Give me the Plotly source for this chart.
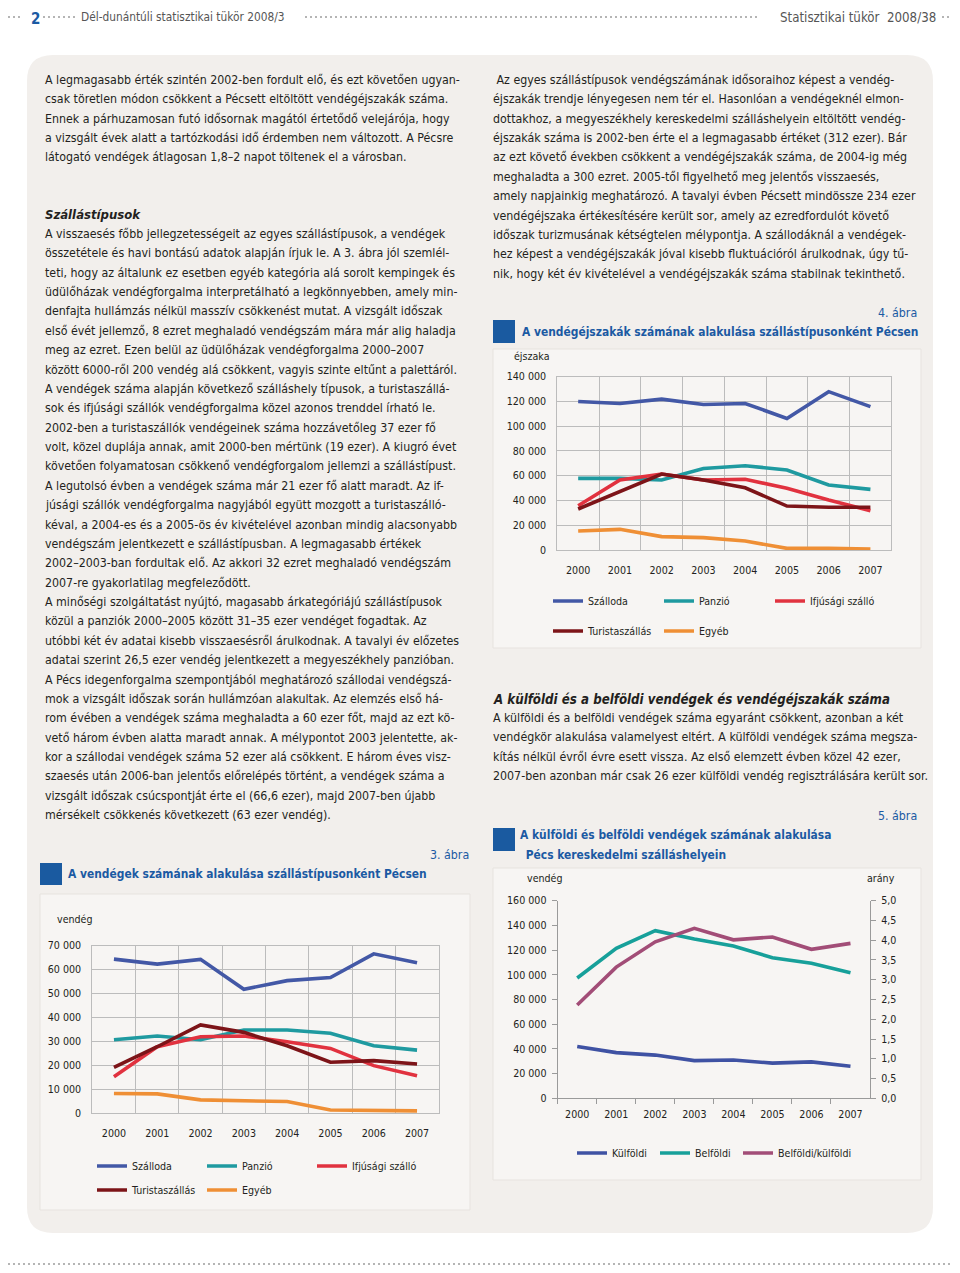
import plotly.graph_objects as go

# page pixels of the reference; the plotly div sits at (8, 8) inside the page
OFF = 8
W, H = 960 - 2 * OFF, 1273 - 2 * OFF
FONT = "DejaVu Sans Condensed, DejaVu Sans, sans-serif"
BLUE = "#1b5aa3"
TXT = "#231f20"
GRID = "#bcbcbc"
PANEL = "#f2efec"
BOX = "#f7f5f3"
BODY = 12.3

# ---------------- data ----------------
years = ["2000", "2001", "2002", "2003", "2004", "2005", "2006", "2007"]

# 3. ábra – vendégek (fő)
g_szalloda = [64400, 62300, 64300, 51800, 55400, 56700, 66600, 62900]
g_panzio = [30700, 32300, 30700, 34800, 34800, 33400, 28200, 26400]
g_ifjusagi = [15300, 27800, 32000, 32300, 29900, 27100, 19900, 15700]
g_turista = [19200, 27800, 36900, 33800, 28200, 21300, 22000, 20600]
g_egyeb = [8300, 8100, 5600, 5300, 4900, 1400, 1300, 1000]

# 4. ábra – vendégéjszakák
n_szalloda = [120000, 118400, 121900, 117600, 118400, 106300, 127900, 115800]
n_panzio = [57900, 57900, 56500, 65900, 68100, 64600, 52500, 49000]
n_ifjusagi = [35800, 56500, 61400, 56500, 57100, 49800, 40400, 31800]
n_turista = [33100, 47100, 61400, 56500, 50300, 35500, 34500, 34500]
n_egyeb = [15300, 16700, 10800, 10000, 7300, 1300, 1300, 800]

# 5. ábra – külföldi / belföldi vendégek
kulfoldi = [42000, 37000, 35000, 30500, 31000, 28500, 29500, 26000]
belfoldi = [97400, 121500, 135700, 129000, 123300, 113800, 109300, 101700]
arany = [2.36, 3.32, 3.96, 4.30, 4.01, 4.08, 3.77, 3.92]

types = ["Szálloda", "Panzió", "Ifjúsági szálló", "Turistaszállás", "Egyéb"]
type_colors = ["#4358a6", "#1f9aa0", "#e1323f", "#7d1418", "#ef8f35"]
kb_names = ["Külföldi", "Belföldi", "Belföldi/külföldi"]
kb_colors = ["#3f52a3", "#17a09a", "#a24d77"]

# ---------------- text ----------------
left_p1 = [
    "A legmagasabb érték szintén 2002-ben fordult elő, és ezt követően ugyan-",
    "csak töretlen módon csökkent a Pécsett eltöltött vendégéjszakák száma.",
    "Ennek a párhuzamosan futó idősornak magától értetődő velejárója, hogy",
    "a vizsgált évek alatt a tartózkodási idő érdemben nem változott. A Pécsre",
    "látogató vendégek átlagosan 1,8–2 napot töltenek el a városban.",
]
left_p2 = [
    "A visszaesés főbb jellegzetességeit az egyes szállástípusok, a vendégek",
    "összetétele és havi bontású adatok alapján írjuk le. A 3. ábra jól szemlél-",
    "teti, hogy az általunk ez esetben egyéb kategória alá sorolt kempingek és",
    "üdülőházak vendégforgalma interpretálható a legkönnyebben, amely min-",
    "denfajta hullámzás nélkül masszív csökkenést mutat. A vizsgált időszak",
    "első évét jellemző, 8 ezret meghaladó vendégszám mára már alig haladja",
    "meg az ezret. Ezen belül az üdülőházak vendégforgalma 2000–2007",
    "között 6000-ről 200 vendég alá csökkent, vagyis szinte eltűnt a palettáról.",
    "A vendégek száma alapján következő szálláshely típusok, a turistaszállá-",
    "sok és ifjúsági szállók vendégforgalma közel azonos trenddel írható le.",
    "2002-ben a turistaszállók vendégeinek száma hozzávetőleg 37 ezer fő",
    "volt, közel duplája annak, amit 2000-ben mértünk (19 ezer). A kiugró évet",
    "követően folyamatosan csökkenő vendégforgalom jellemzi a szállástípust.",
    "A legutolsó évben a vendégek száma már 21 ezer fő alatt maradt. Az if-",
    "júsági szállók vendégforgalma nagyjából együtt mozgott a turistaszálló-",
    "kéval, a 2004-es és a 2005-ös év kivételével azonban mindig alacsonyabb",
    "vendégszám jelentkezett e szállástípusban. A legmagasabb értékek",
    "2002–2003-ban fordultak elő. Az akkori 32 ezret meghaladó vendégszám",
    "2007-re gyakorlatilag megfeleződött.",
    "A minőségi szolgáltatást nyújtó, magasabb árkategóriájú szállástípusok",
    "közül a panziók 2000–2005 között 31–35 ezer vendéget fogadtak. Az",
    "utóbbi két év adatai kisebb visszaesésről árulkodnak. A tavalyi év előzetes",
    "adatai szerint 26,5 ezer vendég jelentkezett a megyeszékhely panzióban.",
    "A Pécs idegenforgalma szempontjából meghatározó szállodai vendégszá-",
    "mok a vizsgált időszak során hullámzóan alakultak. Az elemzés első há-",
    "rom évében a vendégek száma meghaladta a 60 ezer főt, majd az ezt kö-",
    "vető három évben alatta maradt annak. A mélypontot 2003 jelentette, ak-",
    "kor a szállodai vendégek száma 52 ezer alá csökkent. E három éves visz-",
    "szaesés után 2006-ban jelentős előrelépés történt, a vendégek száma a",
    "vizsgált időszak csúcspontját érte el (66,6 ezer), majd 2007-ben újabb",
    "mérsékelt csökkenés következett (63 ezer vendég).",
]
right_p1 = [
    " Az egyes szállástípusok vendégszámának idősoraihoz képest a vendég-",
    "éjszakák trendje lényegesen nem tér el. Hasonlóan a vendégeknél elmon-",
    "dottakhoz, a megyeszékhely kereskedelmi szálláshelyein eltöltött vendég-",
    "éjszakák száma is 2002-ben érte el a legmagasabb értéket (312 ezer). Bár",
    "az ezt követő években csökkent a vendégéjszakák száma, de 2004-ig még",
    "meghaladta a 300 ezret. 2005-től figyelhető meg jelentős visszaesés,",
    "amely napjainkig meghatározó. A tavalyi évben Pécsett mindössze 234 ezer",
    "vendégéjszaka értékesítésére került sor, amely az ezredfordulót követő",
    "időszak turizmusának kétségtelen mélypontja. A szállodáknál a vendégek-",
    "hez képest a vendégéjszakák jóval kisebb fluktuációról árulkodnak, úgy tű-",
    "nik, hogy két év kivételével a vendégéjszakák száma stabilnak tekinthető.",
]
right_p2 = [
    "A külföldi és a belföldi vendégek száma egyaránt csökkent, azonban a két",
    "vendégkör alakulása valamelyest eltért. A külföldi vendégek száma megsza-",
    "kítás nélkül évről évre esett vissza. Az első elemzett évben közel 42 ezer,",
    "2007-ben azonban már csak 26 ezer külföldi vendég regisztrálására került sor.",
]


def px(x):
    return (x - OFF) / W


def py(y):
    return 1 - (y - OFF) / H


fig = go.Figure()
annotations = []
shapes = []


def ann(text, x, y, size=BODY, color=TXT, xanchor="left", bold=False, italic=False,
        yanchor="middle"):
    if bold:
        text = "<b>" + text + "</b>"
    if italic:
        text = "<i>" + text + "</i>"
    annotations.append(dict(
        text=text, x=px(x), y=py(y), xref="paper", yref="paper",
        xanchor=xanchor, yanchor=yanchor, showarrow=False,
        font=dict(family=FONT, size=size, color=color),
    ))


def lines_block(lines, x, y0, step=19.37, size=BODY):
    for i, t in enumerate(lines):
        ann(t, x, y0 + i * step, size=size)


def rect(x0, y0, x1, y1, fill, line=None, layer="below"):
    shapes.append(dict(
        type="rect", xref="paper", yref="paper",
        x0=px(x0), x1=px(x1), y0=py(y1), y1=py(y0),
        fillcolor=fill, line=dict(width=1 if line else 0, color=line or fill),
        layer=layer,
    ))


def dots(x0, x1, y):
    shapes.append(dict(
        type="line", xref="paper", yref="paper",
        x0=px(x0), x1=px(x1), y0=py(y), y1=py(y),
        line=dict(color="#b5b5b5", width=2, dash="2px,3px"), layer="below",
    ))


# page panel (rounded)
x0, y0, x1, y1, r = 27, 55, 933, 1233, 26
path = (
    f"M {px(x0 + r)},{py(y0)} L {px(x1 - r)},{py(y0)} Q {px(x1)},{py(y0)} {px(x1)},{py(y0 + r)} "
    f"L {px(x1)},{py(y1 - r)} Q {px(x1)},{py(y1)} {px(x1 - r)},{py(y1)} "
    f"L {px(x0 + r)},{py(y1)} Q {px(x0)},{py(y1)} {px(x0)},{py(y1 - r)} "
    f"L {px(x0)},{py(y0 + r)} Q {px(x0)},{py(y0)} {px(x0 + r)},{py(y0)} Z"
)
shapes.append(dict(type="path", path=path, xref="paper", yref="paper",
                   fillcolor=PANEL, line=dict(width=0), layer="below"))

# chart boxes
rect(40, 894, 470, 1210, BOX, "#e7e3df")
rect(493, 349, 921, 648, BOX, "#e7e3df")
rect(493, 868, 921, 1180, BOX, "#e7e3df")

# title squares
rect(40, 863, 62, 885, "#1a5aa0")
rect(493, 320, 515, 343, "#1a5aa0")
rect(493, 828, 515, 851, "#1a5aa0")

# header (anchored to the top edge of the figure so nothing is clipped)
HY = 17
dots(8, 22, HY)
dots(43, 75, HY)
dots(305, 760, HY)
dots(942, 952, HY)
dots(8, 952, 1264)
ann("2", 29, OFF, size=15, color=BLUE, bold=True, yanchor="top")
ann("Dél-dunántúli statisztikai tükör 2008/3", 79, OFF + 0.5, size=11.8,
    color="#555555", yanchor="top")
ann("Statisztikai tükör  2008/38", 938, OFF, size=13.2, color="#555555",
    xanchor="right", yanchor="top")

# body text
LX, RX = 43, 491
lines_block(left_p1, LX, 80)
ann("Szállástípusok", LX, 215, size=13, bold=True, italic=True)
lines_block(left_p2, LX, 234)
lines_block(right_p1, RX, 80)
ann("A külföldi és a belföldi vendégek és vendégéjszakák száma", RX, 699,
    size=13.2, bold=True, italic=True)
lines_block(right_p2, RX, 718)

# chart titles
TS = 11.9
ann("3. ábra", 471, 855, size=12.3, color=BLUE, xanchor="right")
ann("A vendégek számának alakulása szállástípusonként Pécsen", 66, 874,
    size=TS, color=BLUE, bold=True)
ann("4. ábra", 919, 313, size=12.3, color=BLUE, xanchor="right")
ann("A vendégéjszakák számának alakulása szállástípusonként Pécsen", 520, 332,
    size=TS, color=BLUE, bold=True)
ann("5. ábra", 919, 816, size=12.3, color=BLUE, xanchor="right")
ann("A külföldi és belföldi vendégek számának alakulása", 518, 835,
    size=TS, color=BLUE, bold=True)
ann(" Pécs kereskedelmi szálláshelyein", 520, 855, size=TS, color=BLUE, bold=True)

# axis captions
CAP = 10.6
ann("vendég", 55, 919, size=CAP)
ann("éjszaka", 512, 356, size=CAP)
ann("vendég", 525, 878, size=CAP)
ann("arány", 865, 878, size=CAP)

# ---------------- traces ----------------
LW = 3.6
series3 = [g_szalloda, g_panzio, g_ifjusagi, g_turista, g_egyeb]
series4 = [n_szalloda, n_panzio, n_ifjusagi, n_turista, n_egyeb]
for i, (name, col, vals) in enumerate(zip(types, type_colors, series3)):
    fig.add_trace(go.Scatter(x=years, y=vals, name=name, mode="lines",
                             line=dict(color=col, width=LW),
                             xaxis="x", yaxis="y",
                             legend="legend" if i < 3 else "legend2"))
for i, (name, col, vals) in enumerate(zip(types, type_colors, series4)):
    fig.add_trace(go.Scatter(x=years, y=vals, name=name, mode="lines",
                             line=dict(color=col, width=LW),
                             xaxis="x2", yaxis="y2",
                             legend="legend3" if i < 3 else "legend4"))
fig.add_trace(go.Scatter(x=years, y=kulfoldi, name=kb_names[0], mode="lines",
                         line=dict(color=kb_colors[0], width=LW),
                         xaxis="x3", yaxis="y3", legend="legend5"))
fig.add_trace(go.Scatter(x=years, y=belfoldi, name=kb_names[1], mode="lines",
                         line=dict(color=kb_colors[1], width=LW),
                         xaxis="x3", yaxis="y3", legend="legend5"))
fig.add_trace(go.Scatter(x=years, y=arany, name=kb_names[2], mode="lines",
                         line=dict(color=kb_colors[2], width=LW),
                         xaxis="x3", yaxis="y4", legend="legend5"))

# invisible spacer entries so the last legend label is not clipped
for lg, xa, ya in (("legend", "x", "y"), ("legend3", "x2", "y2"), ("legend5", "x3", "y3")):
    fig.add_trace(go.Scatter(x=[None], y=[None], name=" ", mode="lines",
                             line=dict(color="rgba(0,0,0,0)", width=1),
                             xaxis=xa, yaxis=ya, legend=lg, hoverinfo="skip"))

TF = 10.6
tickfont = dict(family=FONT, size=TF, color=TXT)


def grid_x(dom, anchor):
    return dict(domain=dom, anchor=anchor, type="category", range=[-0.5, 7.5],
                tickson="boundaries", showgrid=True, gridcolor=GRID, gridwidth=1.2,
                ticks="", showline=True, linecolor=GRID, linewidth=1.2, mirror=True,
                tickfont=tickfont, ticklabelstandoff=10, fixedrange=True)


def grid_y(dom, anchor, top, step):
    return dict(domain=dom, anchor=anchor, range=[0, top], dtick=step, tick0=0,
                tickformat=",d", showgrid=True, gridcolor=GRID, gridwidth=1.2,
                zeroline=False, showline=True, linecolor=GRID, linewidth=1.2,
                mirror=True, ticks="", tickfont=tickfont, ticklabelstandoff=8,
                fixedrange=True)


def legend_cfg(x, y, ew):
    return dict(orientation="h", x=px(x), y=py(y), xanchor="left", yanchor="middle",
                xref="paper", yref="paper", entrywidth=ew, entrywidthmode="pixels",
                bgcolor="rgba(0,0,0,0)", font=dict(family=FONT, size=TF, color=TXT),
                itemwidth=30, tracegroupgap=0, traceorder="normal")


fig.update_layout(
    width=W, height=H, autosize=False,
    margin=dict(l=0, r=0, t=0, b=0, pad=0, autoexpand=False),
    paper_bgcolor="white", plot_bgcolor="rgba(0,0,0,0)",
    separators=", ",
    font=dict(family=FONT, color=TXT),
    showlegend=True,
    xaxis=grid_x([px(92.3), px(438.7)], "y"),
    yaxis=grid_y([py(1113.3), py(945.7)], "x", 70000, 10000),
    xaxis2=grid_x([px(557.3), px(891.3)], "y2"),
    yaxis2=grid_y([py(550), py(376.7)], "x2", 140000, 20000),
    xaxis3=dict(domain=[px(557.7), px(870)], anchor="y3", type="category",
                range=[-0.5, 7.5], tickson="boundaries", showgrid=False,
                ticks="outside", ticklen=5, tickcolor="#9a9a9a", tickwidth=1.2,
                showline=True, linecolor="#9a9a9a", linewidth=1.2,
                tickfont=tickfont, ticklabelstandoff=6, fixedrange=True),
    yaxis3=dict(domain=[py(1098.3), py(900.7)], anchor="x3", range=[0, 160000],
                dtick=20000, tickformat=",d", showgrid=False, zeroline=False,
                ticks="outside", ticklen=5, tickcolor="#9a9a9a", tickwidth=1.2,
                showline=True, linecolor="#9a9a9a", linewidth=1.2,
                tickfont=tickfont, ticklabelstandoff=3, fixedrange=True),
    yaxis4=dict(overlaying="y3", side="right", anchor="x3", range=[0, 5], dtick=0.5,
                tickformat=".1f", showgrid=False, zeroline=False,
                ticks="outside", ticklen=5, tickcolor="#9a9a9a", tickwidth=1.2,
                showline=True, linecolor="#9a9a9a", linewidth=1.2,
                tickfont=tickfont, ticklabelstandoff=3, fixedrange=True),
    legend=legend_cfg(92, 1166, 65),
    legend2=legend_cfg(92, 1190, 65),
    legend3=legend_cfg(548, 601, 66),
    legend4=legend_cfg(548, 631, 66),
    legend5=legend_cfg(572, 1153, 38),
    annotations=annotations,
    shapes=shapes,
)

fig.write_html("out.html")
